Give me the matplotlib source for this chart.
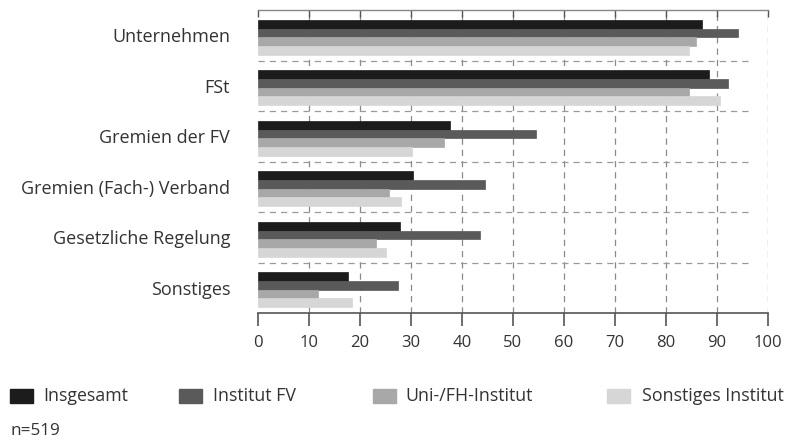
import numpy as np
import matplotlib.pyplot as plt
from matplotlib.patches import Rectangle

plt.rcParams['font.family'] = ['Open Sans', 'DejaVu Sans']

categories = ["Unternehmen", "FSt", "Gremien der FV", "Gremien (Fach-) Verband",
              "Gesetzliche Regelung", "Sonstiges"]
series_names = ["Insgesamt", "Institut FV", "Uni-/FH-Institut", "Sonstiges Institut"]
insgesamt = [87.1, 88.4, 37.6, 30.3, 27.9, 17.6]
institut_fv = [94.2, 92.2, 54.5, 44.5, 43.5, 27.5]
uni_fh = [85.9, 84.5, 36.5, 25.6, 23.1, 11.8]
sonstiges_inst = [84.5, 90.5, 30.1, 28.1, 25.1, 18.4]
series = [insgesamt, institut_fv, uni_fh, sonstiges_inst]
colors = ["#1c1c1c", "#5a5a5a", "#a8a8a8", "#d6d6d6"]
xticks = list(range(0, 101, 10))
note = "n=519"

txt = "#333333"

fig = plt.figure(figsize=(7.89, 4.42), dpi=100)
ax = fig.add_axes([258 / 789, 1 - 313 / 442, 510 / 789, 303 / 442])

y = np.arange(len(categories))
h = 0.172
for k, (vals, c) in enumerate(zip(series, colors)):
    ax.barh(y + (k - 1.5) * h + 0.04, vals, height=h, color=c,
            edgecolor=c, linewidth=0.5, zorder=3)

ax.set_xlim(0, 100)
ax.set_ylim(len(categories) - 0.5, -0.5)
ax.set_xticks(xticks)
ax.set_yticks(y)
ax.set_yticklabels(categories)

# grid
for xv in xticks[1:]:
    ax.axvline(xv, color="#8a8a8a", lw=0.9, ls=(0, (5, 4)), zorder=1)
for yv in np.arange(0.5, len(categories) - 0.5, 1):
    ax.plot([0, 97], [yv, yv], color="#9a9a9a", lw=0.9, ls=(0, (5, 4)), zorder=1)

for s in ["left", "right"]:
    ax.spines[s].set_visible(False)
ax.spines["bottom"].set_color("#555555")
ax.spines["bottom"].set_linewidth(1.2)
ax.spines["top"].set_color("#888888")
ax.spines["top"].set_linewidth(1.0)

ax.tick_params(axis="x", direction="out", length=9, width=1.2, color="#555555",
               labelsize=12, labelcolor=txt, pad=7)
ax.tick_params(axis="x", which="major", top=True, labeltop=False)
ax.tick_params(axis="y", length=0, labelsize=13, labelcolor=txt, pad=20)

# top ticks point down into the plot
for t in ax.xaxis.get_major_ticks():
    t.tick2line.set_marker(3)  # TICKDOWN
    t.tick2line.set_markersize(5)
    t.tick2line.set_markeredgewidth(1.0)
    t.tick2line.set_color("#888888")

# legend
leg_sq = [10, 179, 373, 607]
leg_tx = [43, 213, 405, 642]
for name, c, sx, tx in zip(series_names, colors, leg_sq, leg_tx):
    fig.patches.append(Rectangle((sx / 789, 1 - 403 / 442), 23 / 789, 14 / 442,
                                 transform=fig.transFigure, color=c))
    fig.text(tx / 789, 1 - 396 / 442, name, fontsize=12.8, color=txt,
             va="center", ha="left")

fig.text(10 / 789, 1 - 431 / 442, note, fontsize=12.3, color=txt,
         va="center", ha="left")

fig.savefig("out.png", dpi=100)
